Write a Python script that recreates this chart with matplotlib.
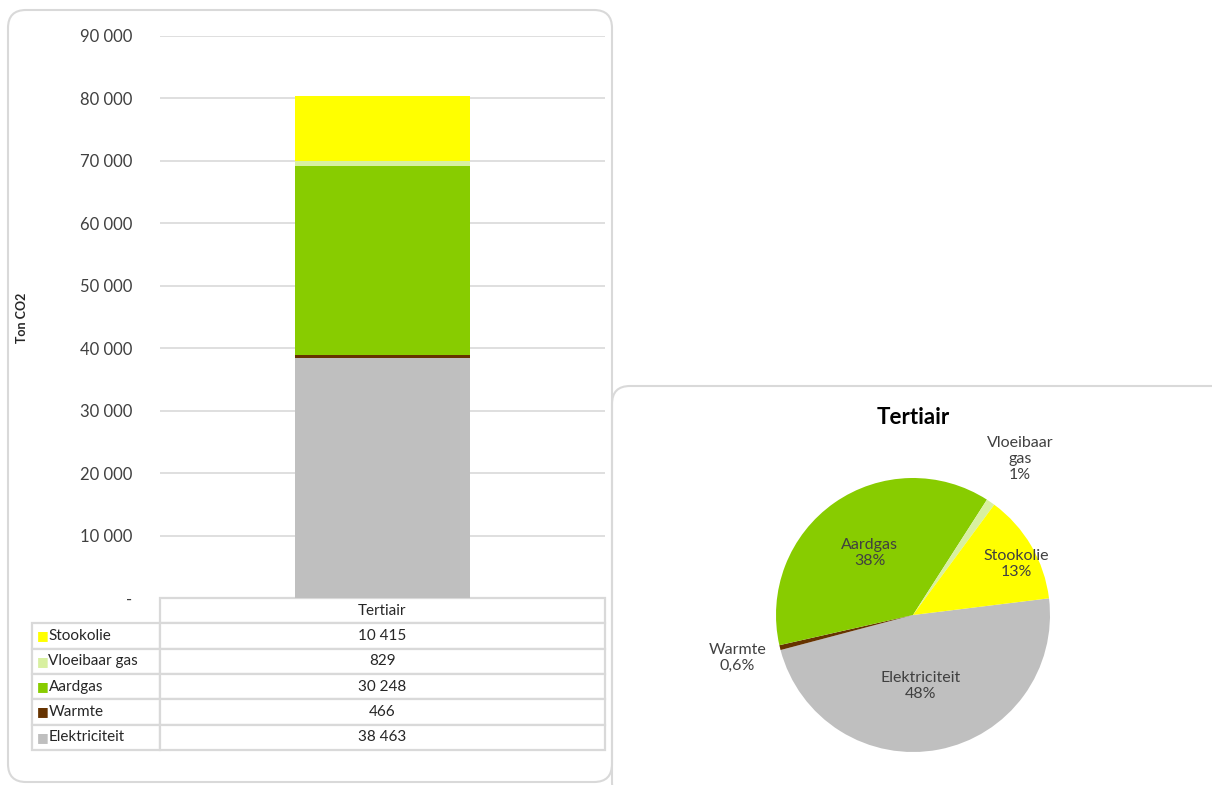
import numpy as np
import matplotlib.pyplot as plt
from matplotlib.patches import FancyBboxPatch
from matplotlib.transforms import IdentityTransform

plt.rcParams['font.family'] = ['Lato', 'DejaVu Sans']

# emissions per energy carrier, tertiary sector (ton CO2)
carriers = ['Stookolie', 'Vloeibaar gas', 'Aardgas', 'Warmte', 'Elektriciteit']
emissions = [10415, 829, 30248, 466, 38463]
colors = ['#ffff00', '#d8f0a0', '#88cc00', '#663300', '#bfbfbf']
sector = 'Tertiair'
y_ticks = [0, 10000, 20000, 30000, 40000, 50000, 60000, 70000, 80000, 90000]

W, H = 1212, 785
fig = plt.figure(figsize=(W / 100, H / 100), dpi=100)
fig.patch.set_facecolor('white')


def fx(px):
    return px / W


def fy(py):
    return 1 - py / H


def fmt(v):
    return '-' if v == 0 else f'{v:,.0f}'.replace(',', ' ')


# rounded panel frames (pixel coordinates, origin bottom-left)
for x0, y0, x1, y1 in [(8, 10, 612, 782), (612, 386, 1230, 800)]:
    box = FancyBboxPatch((x0, H - y1), x1 - x0, y1 - y0,
                         boxstyle='round,pad=0,rounding_size=18',
                         transform=IdentityTransform(), facecolor='none',
                         edgecolor='#d9d9d9', linewidth=1.5, zorder=-1)
    fig.patches.append(box)

# ---- stacked column ----
ax = fig.add_axes([fx(160), fy(598), fx(605) - fx(160), fy(36) - fy(598)])
ax.set_facecolor('none')
order = [4, 3, 2, 1, 0]  # bottom to top
bottom = 0
for i in order:
    ax.bar(0, emissions[i], bottom=bottom, width=0.395, color=colors[i], zorder=3)
    bottom += emissions[i]
ax.set_xlim(-0.5, 0.5)
ax.set_ylim(0, 90000)
ax.set_yticks(y_ticks)
ax.set_yticklabels([fmt(v) for v in y_ticks], fontsize=12, color='#404040')
ax.tick_params(axis='y', length=0, pad=20)
ax.set_xticks([])
ax.grid(axis='y', color='#d9d9d9', linewidth=1.2, zorder=0)
for s in ax.spines.values():
    s.set_visible(False)
fig.text(fx(22), fy(318), 'Ton CO2', rotation=90, ha='center', va='center',
         fontsize=9, fontweight='bold', color='#262626')

# data table under the column
tab_left, tab_right, tab_top, tab_bot = 32, 605, 598, 750
ax_h = 598 - 36
ax_w = 605 - 160
bbox = [(tab_left - 160) / ax_w, -(tab_bot - tab_top) / ax_h,
        (tab_right - tab_left) / ax_w, (tab_bot - tab_top) / ax_h]
cell_text = [['', sector]] + [['', fmt(v)] for v in emissions]
col_w = [(160 - tab_left) / (tab_right - tab_left), (tab_right - 160) / (tab_right - tab_left)]
table = ax.table(cellText=cell_text, colWidths=col_w, bbox=bbox, cellLoc='center')
table.auto_set_font_size(False)
for (r, c), cell in table.get_celld().items():
    cell.set_edgecolor('#d9d9d9')
    cell.set_linewidth(1.6)
    cell.get_text().set_fontsize(11)
    cell.get_text().set_color('#262626')
table[0, 0].visible_edges = ''
n_rows = len(carriers) + 1
row_h = bbox[3] / n_rows
for k, (name, col) in enumerate(zip(carriers, colors)):
    yc = bbox[1] + bbox[3] - (k + 1.5) * row_h
    ax.text(bbox[0] + 0.012, yc, '■', transform=ax.transAxes, color=col,
            fontsize=9, va='center', ha='left', family='DejaVu Sans')
    ax.text(bbox[0] + 0.037, yc, name, transform=ax.transAxes, color='#262626',
            fontsize=11, va='center', ha='left')

# ---- pie ----
cx, cy, rad = 913, 615, 137
pax = fig.add_axes([fx(cx - rad), fy(cy + rad), fx(2 * rad), (2 * rad) / H])
pie_order = [4, 3, 2, 1, 0]
vals = [emissions[i] for i in pie_order]
wedges, _ = pax.pie(vals, colors=[colors[i] for i in pie_order], startangle=7,
                    counterclock=False, radius=1,
                    wedgeprops=dict(linewidth=0))
pax.set_xlim(-1, 1)
pax.set_ylim(-1, 1)
pax.set_aspect('equal')
pax.axis('off')

total = sum(emissions)
label_dist = {'Elektriciteit': 0.52, 'Warmte': 1.32, 'Aardgas': 0.55,
              'Vloeibaar gas': 1.38, 'Stookolie': 0.84}
label_shift = {'Stookolie': -4, 'Elektriciteit': -5}
for w, i in zip(wedges, pie_order):
    name = carriers[i]
    pct = 100 * emissions[i] / total
    pct_txt = f'{pct:.1f}'.replace('.', ',') + '%' if pct < 1 else f'{pct:.0f}%'
    txt = name.replace(' ', '\n') + '\n' + pct_txt
    ang = np.deg2rad((w.theta1 + w.theta2) / 2 + label_shift.get(name, 0))
    d = label_dist[name]
    pax.text(d * np.cos(ang), d * np.sin(ang), txt, ha='center', va='center',
             fontsize=11.5, color='#404040', linespacing=1.2, clip_on=False)

fig.text(fx(913), fy(418), sector, ha='center', va='center', fontsize=16,
         fontweight='bold', color='black')

fig.savefig('out.png', dpi=100)
